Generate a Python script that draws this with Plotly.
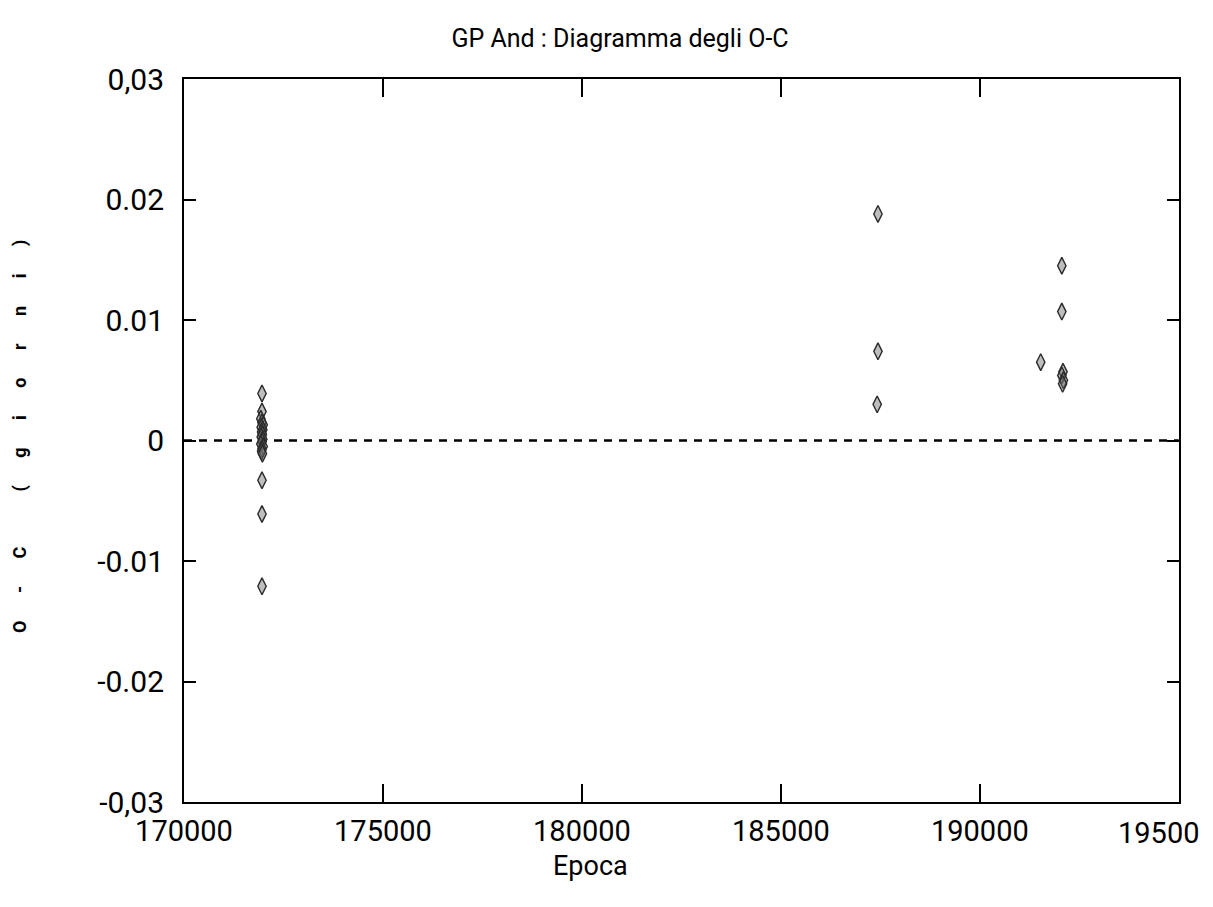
import plotly.graph_objects as go

# Observations (epoch, O-C in days)
epoch_left = [171960, 171960, 171930, 171960, 171990, 171940, 171980, 171950, 171970,
              171940, 171980, 171960, 171930, 171990, 171960, 171950, 171970, 171960,
              171960, 171960]
oc_left = [0.0039, 0.0024, 0.0018, 0.0015, 0.0013, 0.0011, 0.0009, 0.0007, 0.0005,
           0.0003, 0.0001, -0.0001, -0.0003, -0.0005, -0.0007, -0.0009, -0.0011,
           -0.0033, -0.0061, -0.0121]

epoch_right = [187440, 187440, 187420, 192060, 192060, 191530,
               192090, 192060, 192100, 192080]
oc_right = [0.0188, 0.0074, 0.0030, 0.0145, 0.0107, 0.0065,
            0.0057, 0.0054, 0.0050, 0.0047]

# Reference line O-C = 0
zero_x = [170000, 195000]
zero_y = [0, 0]

x_tickvals = [170000, 175000, 180000, 185000, 190000, 195000]
x_ticktext = ["170000", "175000", "180000", "185000", "190000", ""]
x_last_label = "19500"   # last tick label, truncated in the original
y_tickvals = [0.03, 0.02, 0.01, 0, -0.01, -0.02, -0.03]
y_ticktext = ["0,03", "0.02", "0.01", "0", "-0.01", "-0.02", "-0,03"]

FONT = "Roboto, Liberation Sans, sans-serif"

fig = go.Figure()
fig.add_trace(go.Scatter(
    x=zero_x, y=zero_y, mode="lines",
    line=dict(color="black", width=2.5, dash="8px,7px"),
    hoverinfo="skip", showlegend=False))

marker = dict(symbol="diamond-tall", size=12, color="rgba(110,110,110,0.45)",
              line=dict(color="#2a2a2a", width=1.4))
fig.add_trace(go.Scatter(x=epoch_left, y=oc_left, mode="markers",
                         marker=marker, showlegend=False))
fig.add_trace(go.Scatter(x=epoch_right, y=oc_right, mode="markers",
                         marker=marker, showlegend=False))

sp3 = "\u2002" * 3
ylabel = sp3.join(list("O-C")) + "\u2002" * 6 + sp3.join(list("(giorni)"))

W, H = 1197, 891  # page body adds an 8px margin
L, R, T, B = 176, 26, 71, 97
PW, PH = W - L - R, H - T - B
fig.update_layout(
    width=W, height=H,
    margin=dict(l=L, r=R, t=T, b=B, autoexpand=False),
    paper_bgcolor="white", plot_bgcolor="white",
    font=dict(family=FONT, color="black"),
    title=dict(text="GP And : Diagramma degli O-C", x=(620 - 8) / W, xanchor="center",
               y=1 - 30 / H, yanchor="middle",
               font=dict(size=25, family=FONT, color="black")),
    annotations=[
        dict(text="Epoca", xref="paper", yref="paper",
             x=(590 - 8 - L) / PW, y=-(866 - 802) / PH,
             xanchor="center", yanchor="middle", showarrow=False,
             font=dict(size=27, family=FONT, color="black")),
        dict(text=ylabel, xref="paper", yref="paper", textangle=-90,
             x=-(184 - 20) / PW, y=(802 - 437) / PH,
             xanchor="center", yanchor="middle", showarrow=False,
             font=dict(size=18, family=FONT, color="black", weight="bold")),
        dict(text=x_last_label, xref="paper", yref="paper",
             x=(W - 3 - L) / PW, y=-(833 - 802) / PH,
             xanchor="right", yanchor="middle", showarrow=False,
             font=dict(size=29, family=FONT, color="black")),
    ],
)
fig.update_xaxes(
    range=[170000, 195005], tickvals=x_tickvals, ticktext=x_ticktext,
    showgrid=False, zeroline=False, automargin=False,
    showline=True, linecolor="black", linewidth=2, mirror="allticks",
    ticks="inside", ticklen=18, tickwidth=1.5, tickcolor="black",
    tickfont=dict(size=29, family=FONT), ticklabelstandoff=2,
)
fig.update_yaxes(
    range=[-0.03, 0.03], tickvals=y_tickvals, ticktext=y_ticktext,
    showgrid=False, zeroline=False, automargin=False,
    showline=True, linecolor="black", linewidth=2, mirror="allticks",
    ticks="inside", ticklen=12, tickwidth=1.5, tickcolor="black",
    tickfont=dict(size=30, family=FONT), ticklabelstandoff=12,
)

fig.write_html("out.html")
